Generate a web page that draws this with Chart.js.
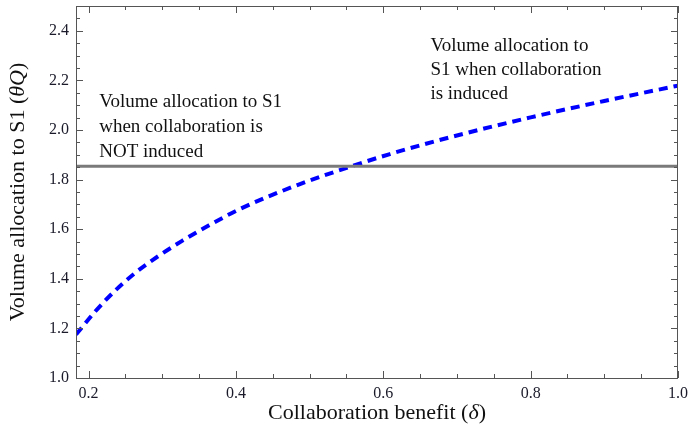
<!DOCTYPE html>
<html>
<head>
<meta charset="utf-8">
<script src="https://cdn.jsdelivr.net/npm/chart.js@4.4.1/dist/chart.umd.min.js"></script>
<style>
  body { margin: 0; background: #fff; }
</style>
</head>
<body>
<canvas id="allocChart" width="688" height="441"></canvas>
<script>
  // values
  const deltaValues = [0.183, 0.209, 0.236, 0.263, 0.295, 0.327, 0.363, 0.408, 0.487, 0.555, 0.609, 0.655, 0.7, 0.8, 0.9, 1.0];
  const inducedValues = [1.175, 1.268, 1.352, 1.423, 1.492, 1.553, 1.615, 1.685, 1.782, 1.852, 1.903, 1.942, 1.978, 2.051, 2.117, 2.179];
  const notInducedDelta = [0.183, 1.0];
  const notInducedValues = [1.854, 1.854];
  const xTicks = [0.2, 0.4, 0.6, 0.8, 1.0];
  const yTicks = [1.0, 1.2, 1.4, 1.6, 1.8, 2.0, 2.2, 2.4];
  const leftNote = ['Volume allocation to S1', 'when collaboration is', 'NOT induced'];
  const rightNote = ['Volume allocation to', 'S1 when collaboration', 'is induced'];

  const serif = '"Liberation Serif", "Times New Roman", serif';

  const drawRich = (ctx, parts, x, y, size) => {
    let total = 0;
    parts.forEach((p) => {
      ctx.font = (p.italic ? 'italic ' : '') + size + 'px ' + serif;
      total += ctx.measureText(p.text).width;
    });
    let cx = x - total / 2;
    parts.forEach((p) => {
      ctx.font = (p.italic ? 'italic ' : '') + size + 'px ' + serif;
      ctx.fillText(p.text, cx, y);
      cx += ctx.measureText(p.text).width;
    });
  };

  const framePlugin = {
    id: 'frame',
    afterDraw(chart) {
      const ctx = chart.ctx;
      const a = chart.chartArea;
      const xs = chart.scales.x;
      const ys = chart.scales.y;
      ctx.save();
      ctx.strokeStyle = '#555';
      ctx.lineWidth = 1;
      ctx.strokeRect(a.left + 0.5, a.top + 0.5, a.right - a.left - 1, a.bottom - a.top);

      // inward ticks on all four sides
      ctx.beginPath();
      for (let v = 0.2; v <= 1.0001; v += 0.05) {
        if (v < xs.min) continue;
        const major = Math.abs(v * 5 - Math.round(v * 5)) < 1e-6;
        const len = major ? 7 : 4;
        const px = Math.round(xs.getPixelForValue(v)) + 0.5;
        ctx.moveTo(px, a.bottom); ctx.lineTo(px, a.bottom - len);
        ctx.moveTo(px, a.top); ctx.lineTo(px, a.top + len);
      }
      for (let v = 1.0; v <= 2.5001; v += 0.05) {
        const major = Math.abs(v * 5 - Math.round(v * 5)) < 1e-6;
        const len = major ? 7 : 4;
        const py = Math.round(ys.getPixelForValue(v)) + 0.5;
        ctx.moveTo(a.left, py); ctx.lineTo(a.left + len, py);
        ctx.moveTo(a.right, py); ctx.lineTo(a.right - len, py);
      }
      ctx.stroke();

      // notes
      ctx.fillStyle = '#111';
      ctx.font = '19px ' + serif;
      ctx.textBaseline = 'middle';
      ctx.textAlign = 'left';
      leftNote.forEach((line, i) => {
        ctx.fillText(line, xs.getPixelForValue(0.2145), ys.getPixelForValue(2.114) + i * 25);
      });
      rightNote.forEach((line, i) => {
        ctx.fillText(line, xs.getPixelForValue(0.664), ys.getPixelForValue(2.34) + i * 24);
      });

      // axis titles
      ctx.textAlign = 'left';
      drawRich(ctx, [{ text: 'Collaboration benefit (' }, { text: 'δ', italic: true }, { text: ')' }],
        (a.left + a.right) / 2, 413, 22);
      ctx.translate(18, (a.top + a.bottom) / 2);
      ctx.rotate(-Math.PI / 2);
      drawRich(ctx, [{ text: 'Volume allocation to S1 (' }, { text: 'θQ', italic: true }, { text: ')' }],
        0, 0, 22);
      ctx.restore();
    },
  };

  const ctxAlloc = document.getElementById('allocChart').getContext('2d');
  const allocChart = new Chart(ctxAlloc, {
    type: 'line',
    data: {
      datasets: [
        {
          label: 'Not induced',
          data: notInducedDelta.map((x, i) => ({ x: x, y: notInducedValues[i] })),
          borderColor: '#7a7a7a',
          borderWidth: 3,
          pointRadius: 0,
        },
        {
          label: 'Induced',
          data: deltaValues.map((x, i) => ({ x: x, y: inducedValues[i] })),
          borderColor: '#0000ff',
          borderWidth: 4,
          borderDash: [9, 6],
          cubicInterpolationMode: 'monotone',
          pointRadius: 0,
        },
      ],
    },
    options: {
      responsive: false,
      animation: false,
      layout: { padding: { top: 6, right: 10, left: 0, bottom: 0 } },
      plugins: {
        legend: { display: false },
        tooltip: { enabled: false },
      },
      scales: {
        x: {
          type: 'linear',
          min: 0.183,
          max: 1.0,
          grid: { display: false, drawTicks: false },
          border: { display: false },
          afterBuildTicks: (scale) => {
            scale.ticks = xTicks.map((v) => ({ value: v }));
          },
          afterFit: (scale) => {
            scale.height = 63;
            scale.paddingLeft = 0;
            scale.paddingRight = 0;
          },
          ticks: {
            padding: 6,
            maxRotation: 0,
            autoSkip: false,
            color: '#1a1a2a',
            font: { family: serif, size: 16 },
            callback: (v) => Number(v).toFixed(1),
          },
        },
        y: {
          type: 'linear',
          min: 1.0,
          max: 2.5,
          grid: { display: false, drawTicks: false },
          border: { display: false },
          afterBuildTicks: (scale) => {
            scale.ticks = yTicks.map((v) => ({ value: v }));
          },
          afterFit: (scale) => {
            scale.width = 76;
            scale.paddingTop = 0;
            scale.paddingBottom = 0;
          },
          ticks: {
            padding: 7,
            autoSkip: false,
            color: '#1a1a2a',
            font: { family: serif, size: 16 },
            callback: (v) => Number(v).toFixed(1),
          },
        },
      },
    },
    plugins: [framePlugin],
  });
</script>
</body>
</html>
